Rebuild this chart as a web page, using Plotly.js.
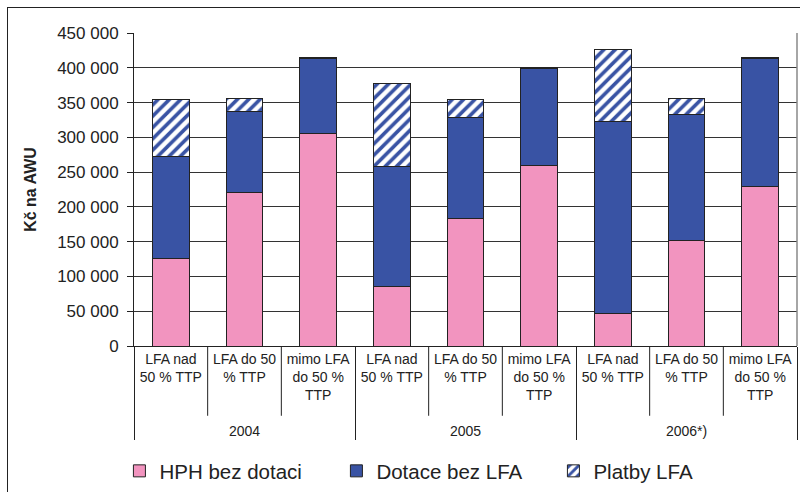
<!DOCTYPE html>
<html>
<head>
<meta charset="utf-8">
<script src="https://cdn.plot.ly/plotly-3.0.1.min.js"></script>
<style>
  html, body { margin: 0; padding: 0; background: #fff; }
  #wrap { position: relative; width: 800px; height: 492px; overflow: hidden; }
  #chart { position: absolute; left: 0; top: 0; width: 800px; height: 492px; }
  #frame { position: absolute; left: 7px; top: 7px; width: 800px; height: 500px;
           border-top: 1.5px solid #222; border-left: 1.5px solid #222; pointer-events: none; }
</style>
</head>
<body>
<div id="wrap"><div id="chart"></div><div id="frame"></div></div>
<script>
// ---- data ----
const years = ["<br>2004", "<br>2004", "<br>2004", "<br>2005", "<br>2005", "<br>2005", "<br>2006*)", "<br>2006*)", "<br>2006*)"];
const categories = ["LFA nad<br>50 % TTP", "LFA do 50<br>% TTP", "mimo LFA<br>do 50 %<br>TTP",
                    "LFA nad<br>50 % TTP", "LFA do 50<br>% TTP", "mimo LFA<br>do 50 %<br>TTP",
                    "LFA nad<br>50 % TTP", "LFA do 50<br>% TTP", "mimo LFA<br>do 50 %<br>TTP"];
const seriesNames = ["HPH bez dotaci", "Dotace bez LFA", "Platby LFA"];
const hphBezDotaci = [126000, 221000, 306000, 86000, 183000, 259000, 47000, 151000, 230000];
const dotaceBezLFA = [146000, 116000, 108000, 172000, 146000, 140000, 276000, 182000, 184000];
const platbyLFA    = [83000, 19000, 1500, 119000, 26000, 1500, 104000, 23000, 1500];
const yTitle = "Kč na AWU";

const pink = "#F294BF";
const blue = "#3953A4";
const outline = "#222";

const x = [years, categories];
const traces = [
  { type: "bar", name: seriesNames[0], x: x, y: hphBezDotaci,
    marker: { color: pink, line: { color: outline, width: 1 } } },
  { type: "bar", name: seriesNames[1], x: x, y: dotaceBezLFA,
    marker: { color: blue, line: { color: outline, width: 1 } } },
  { type: "bar", name: seriesNames[2], x: x, y: platbyLFA,
    marker: { color: "#ffffff", line: { color: outline, width: 1 },
              pattern: { shape: "/", fgcolor: blue, bgcolor: "#ffffff", size: 8, solidity: 0.45 } } }
];

// inner category dividers (boundaries between the 9 categories) and right plot border
const plotH = 314;
const shapes = [];
for (let i = 1; i < categories.length; i++) {
  if (i % 3 === 0) continue;
  shapes.push({ type: "line", xref: "paper", yref: "paper",
    x0: i / categories.length, x1: i / categories.length, y0: 0, y1: -70 / plotH,
    line: { color: "#222", width: 1 } });
}
shapes.push({ type: "line", xref: "paper", yref: "paper", x0: 1, x1: 1, y0: 0, y1: 1,
  line: { color: "#888", width: 1.5 } });

const layout = {
  width: 800, height: 492,
  margin: { l: 134, r: 3, t: 33, b: 145 },
  paper_bgcolor: "#fff", plot_bgcolor: "#fff",
  barmode: "stack", bargap: 0.5,
  separators: ", ",
  font: { family: "Liberation Sans, Arial, sans-serif", color: "#222" },
  showlegend: true,
  legend: { orientation: "h", x: -0.022, y: -0.395, xanchor: "left", yanchor: "middle",
            entrywidth: 172, font: { size: 20.5, color: "#222" }, traceorder: "normal" },
  xaxis: { type: "multicategory", showgrid: false, ticks: "", automargin: false,
           showline: true, linecolor: "#222", linewidth: 1,
           showdividers: true, dividercolor: "#222", dividerwidth: 1,
           tickfont: { family: "Liberation Sans, Arial, sans-serif", size: 14, color: "#222" } },
  yaxis: { range: [0, 450000], dtick: 50000, tickformat: ",d", ticks: "outside", ticklen: 6,
           automargin: false, ticklabelstandoff: 5,
           tickcolor: "#222", showline: true, linecolor: "#222", linewidth: 1,
           gridcolor: "#333", gridwidth: 1, zeroline: true, zerolinecolor: "#222",
           tickfont: { size: 17, color: "#222" },
           title: { text: "<b>" + yTitle + "</b>", font: { size: 16, color: "#222" }, standoff: 16 } },
  shapes: shapes
};

Plotly.newPlot("chart", traces, layout, { displayModeBar: false, staticPlot: true });
</script>
</body>
</html>
